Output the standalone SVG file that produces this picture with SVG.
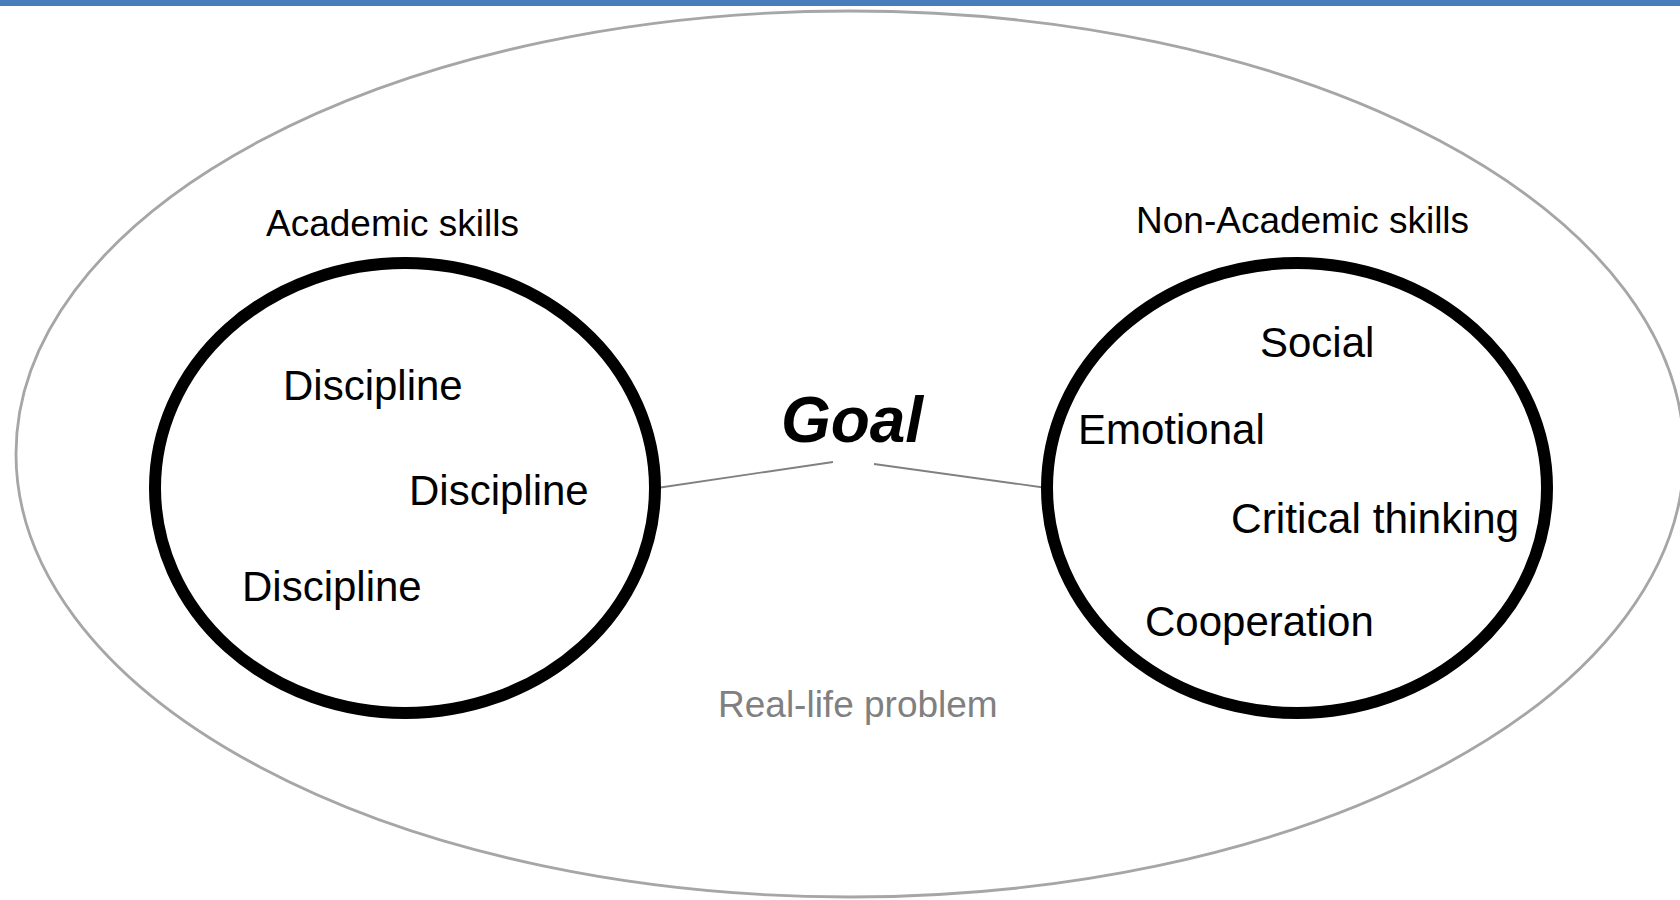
<svg xmlns="http://www.w3.org/2000/svg" width="1680" height="900" viewBox="0 0 1680 900">
<style>
.lbl{font-family:"Liberation Sans",Arial,sans-serif;fill:#000}
.ring{fill:none;stroke:#000;stroke-width:12}
.conn{stroke:#808080;stroke-width:1.8;fill:none}
</style>
<rect x="0" y="0" width="1680" height="900" fill="#fff"/>
<rect id="topbar" x="0" y="0" width="1680" height="6" fill="#4A7EBB"/>
<g id="realLife">
<ellipse cx="850" cy="454" rx="834" ry="443" fill="none" stroke="#A6A6A6" stroke-width="2.8"/>
<text class="lbl" x="718" y="717" font-size="37" style="fill:#808080">Real-life problem</text>
</g>
<g id="connectors">
<line class="conn" x1="657" y1="488" x2="833" y2="462"/>
<line class="conn" x1="874" y1="464" x2="1047" y2="488"/>
</g>
<g id="goal">
<text class="lbl" x="852" y="442" font-size="64" font-weight="bold" font-style="italic" text-anchor="middle">Goal</text>
</g>
<g id="academic">
<ellipse class="ring" cx="405" cy="488" rx="250" ry="225"/>
<text class="lbl" x="266" y="236" font-size="37">Academic skills</text>
<text class="lbl" x="283" y="400" font-size="42">Discipline</text>
<text class="lbl" x="409" y="505" font-size="42">Discipline</text>
<text class="lbl" x="242" y="601" font-size="42">Discipline</text>
</g>
<g id="nonAcademic">
<ellipse class="ring" cx="1297" cy="488" rx="250" ry="225"/>
<text class="lbl" x="1136" y="233" font-size="37">Non-Academic skills</text>
<text class="lbl" x="1260" y="357" font-size="42">Social</text>
<text class="lbl" x="1078" y="444" font-size="42">Emotional</text>
<text class="lbl" x="1231" y="533" font-size="42.5">Critical thinking</text>
<text class="lbl" x="1145" y="636" font-size="42">Cooperation</text>
</g>
</svg>
